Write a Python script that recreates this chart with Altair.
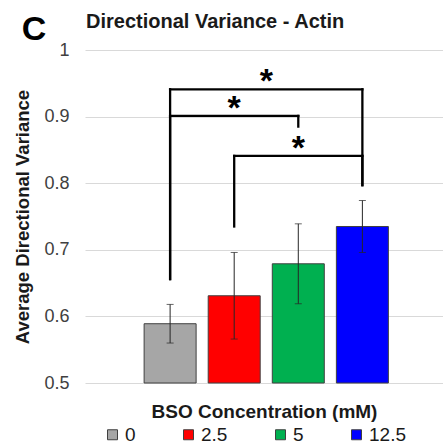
import altair as alt
import pandas as pd

# ---- data ----
categories = ["0", "2.5", "5", "12.5"]
means = [0.589, 0.631, 0.679, 0.735]
errors = [0.029, 0.065, 0.060, 0.039]
colors = ["#A6A6A6", "#FF0000", "#00B050", "#0000FF"]

# significance brackets
bracket_from = ["0", "0", "2.5"]
bracket_to = ["12.5", "5", "12.5"]
bracket_level = [0.941, 0.901, 0.841]
bracket_from_end = [0.656, 0.656, 0.735]
bracket_to_end = [0.797, 0.885, 0.797]
bracket_label = ["*", "*", "*"]

y_ticks = [0.5, 0.6, 0.7, 0.8, 0.9, 1.0]
title_text = "Directional Variance - Actin"
panel_letter = "C"

# ---- tables ----
pos = {c: i for i, c in enumerate(categories)}
bars = pd.DataFrame({
    "cat": categories,
    "pos": [pos[c] for c in categories],
    "mean": means,
    "lo": [m - e for m, e in zip(means, errors)],
    "hi": [m + e for m, e in zip(means, errors)],
})
caps = pd.concat([
    pd.DataFrame({"pos": bars["pos"], "v": bars["lo"]}),
    pd.DataFrame({"pos": bars["pos"], "v": bars["hi"]}),
])
hlines = pd.DataFrame({
    "x": [pos[c] for c in bracket_from],
    "x2": [pos[c] for c in bracket_to],
    "y": bracket_level,
    "label": bracket_label,
})
hlines["mid"] = (hlines["x"] + hlines["x2"]) / 2
legs = pd.DataFrame({
    "x": [pos[c] for c in bracket_from] + [pos[c] for c in bracket_to],
    "y": bracket_from_end + bracket_to_end,
    "y2": bracket_level + bracket_level,
})

FONT = "Liberation Sans"
xscale = alt.Scale(domain=[-1.25, 4.18], nice=False, zero=False)
yscale = alt.Scale(domain=[0.5, 1.0], nice=False, zero=False)
xaxis = alt.Axis(labels=False, ticks=False, domain=False, grid=False,
                 title="BSO Concentration (mM)", titleFontSize=19,
                 titleFontWeight="bold", titleColor="#1a1a1a", titlePadding=19)
yaxis = alt.Axis(values=y_ticks, format=".1~f", labelFontSize=18,
                 labelColor="#404040", labelPadding=16, ticks=False,
                 domain=False, gridColor="#D9D9D9", gridWidth=1,
                 title="Average Directional Variance", titleFontSize=18.5,
                 titleFontWeight="bold", titleColor="#1a1a1a", titlePadding=11)


def X(field):
    return alt.X(field, scale=xscale, axis=xaxis, title="BSO Concentration (mM)")


def Y(field):
    return alt.Y(field, scale=yscale, axis=yaxis, title="Average Directional Variance")


base_bar = alt.Chart(bars).mark_bar(size=52, stroke="#404040", strokeWidth=1).encode(
    x=X("pos:Q"),
    y=Y("mean:Q"),
    y2=alt.datum(0.5),
    color=alt.Color("cat:N", scale=alt.Scale(domain=categories, range=colors),
                    legend=alt.Legend(orient="none", legendX=18, legendY=375,
                                      direction="horizontal", title=None,
                                      symbolType="square", symbolSize=100,
                                      symbolStrokeColor="#404040", symbolStrokeWidth=1,
                                      labelFontSize=19, labelColor="#1a1a1a",
                                      labelOffset=3, columnPadding=43, padding=0)),
)

err = alt.Chart(bars).mark_rule(color="#262626", strokeWidth=1).encode(
    x=X("pos:Q"), y=Y("lo:Q"), y2="hi:Q",
)
cap = alt.Chart(caps).mark_tick(orient="horizontal", size=7, thickness=1, color="#262626").encode(
    x=X("pos:Q"), y=Y("v:Q"),
)
hl = alt.Chart(hlines).mark_rule(color="black", strokeWidth=2.3, strokeCap="square").encode(
    x=X("x:Q"), x2="x2:Q", y=Y("y:Q"),
)
lg = alt.Chart(legs).mark_rule(color="black", strokeWidth=2.3, strokeCap="square").encode(
    x=X("x:Q"), y=Y("y:Q"), y2="y2:Q",
)
stars = alt.Chart(hlines).mark_text(font=FONT, fontSize=34, fontWeight="bold",
                                    baseline="alphabetic", dy=3, color="black").encode(
    x=X("mid:Q"), y=Y("y:Q"), text="label:N",
)
panel = alt.Chart(pd.DataFrame({"t": [panel_letter]})).mark_text(
    font=FONT, fontSize=34, fontWeight="bold", color="black",
    align="center", baseline="alphabetic").encode(
    x=alt.value(-51), y=alt.value(-10), text="t:N")
title = alt.Chart(pd.DataFrame({"t": [title_text]})).mark_text(
    font=FONT, fontSize=20, fontWeight="bold", color="#1a1a1a",
    align="left", baseline="alphabetic").encode(
    x=alt.value(1), y=alt.value(-22), text="t:N")

chart = alt.layer(base_bar, err, cap, hl, lg, stars, panel, title).properties(
    width=358, height=333,
    autosize=alt.AutoSizeParams(type="none"),
    padding={"left": 85, "top": 50, "right": 0, "bottom": 64},
).configure(font=FONT).configure_view(stroke=None)

chart.save("out.html", embed_options={"renderer": "svg", "actions": False})
